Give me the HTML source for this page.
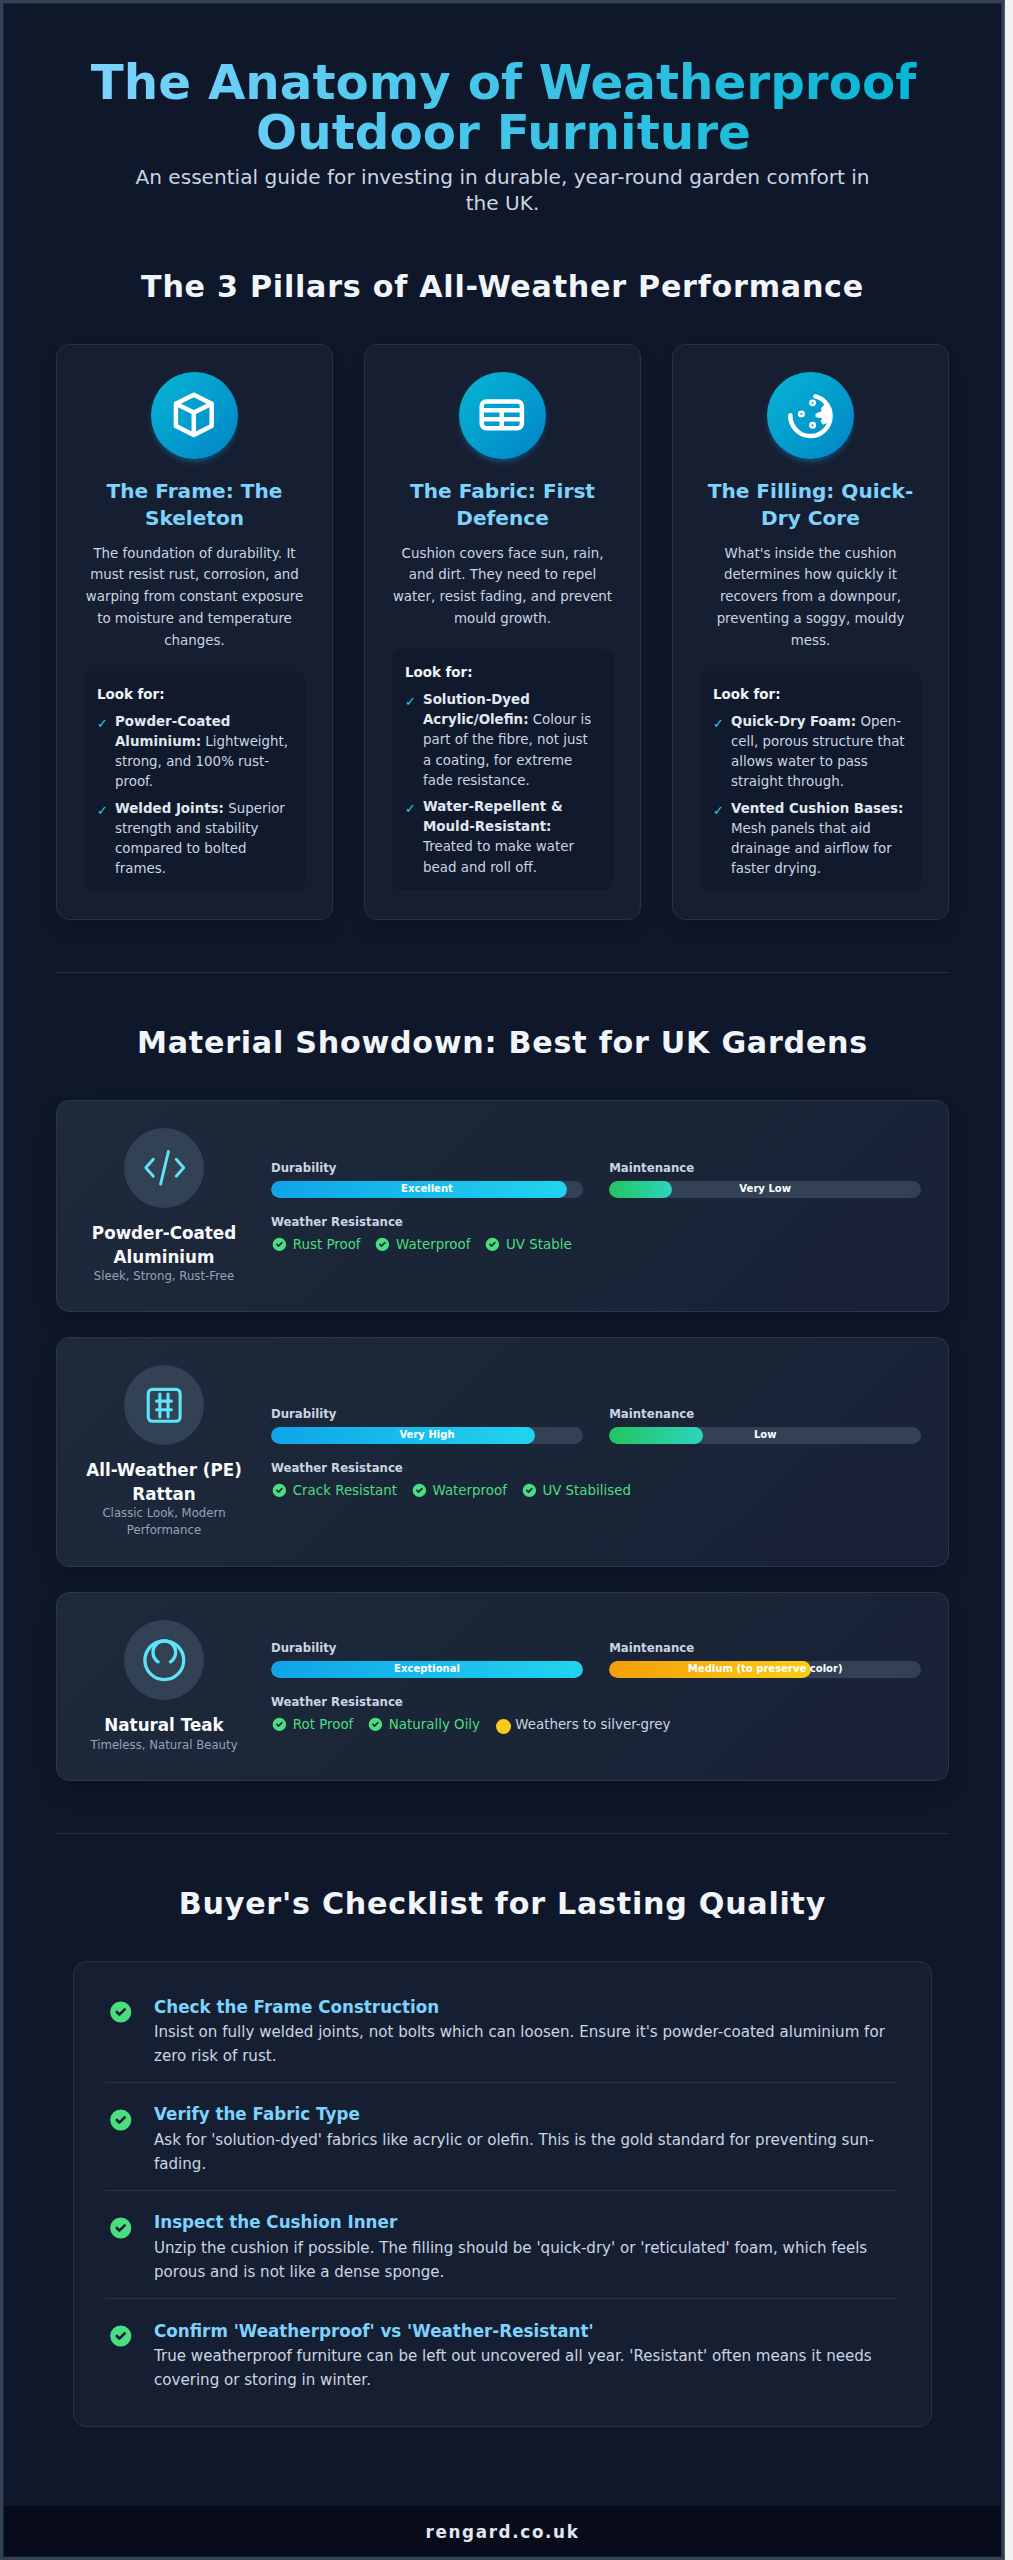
<!DOCTYPE html>
<html lang="en">
<head>
<meta charset="utf-8">
<title>The Anatomy of Weatherproof Outdoor Furniture</title>
<style>
*{box-sizing:border-box;margin:0;padding:0}
html,body{width:1013px;height:2560px;background:#f2f2f2;overflow:hidden}
body{font-family:"DejaVu Sans","Liberation Sans",sans-serif;color:#cbd5e1;-webkit-font-smoothing:antialiased}
#page{position:absolute;left:0;top:0;width:1005px;height:2560px;background:#0f172a;overflow:hidden}
#in{position:absolute;left:3px;top:3px;width:999px;height:2554px}
.bd{position:absolute;background:#334155}
.abs{position:absolute}
h1{position:absolute;left:1px;width:999px;top:53.75px;text-align:center;font-size:48.4px;line-height:50px;font-weight:700;
 background:linear-gradient(90deg,#7dd3fc 9%,#06b6d4 91%);-webkit-background-clip:text;background-clip:text;color:transparent}
.sub{position:absolute;left:0;width:999px;top:160.7px;text-align:center;font-size:20.1px;line-height:26.8px;color:#cbd5e1}
h2{position:absolute;left:0;width:999px;text-align:center;font-size:30.15px;line-height:40px;font-weight:700;color:#f1f5f9;letter-spacing:.75px}
.hr{position:absolute;left:53px;width:893px;height:1px;background:#212c40}
/* pillar cards */
.pc{position:absolute;top:341px;width:277px;height:576px;border:1px solid #263247;border-radius:13px;background:#161f32;text-align:center;box-shadow:0 10px 20px -6px rgba(0,0,0,.28)}
.pc .ic{position:absolute;left:50%;top:26.5px;margin-left:-43.8px;width:87px;height:87px;border-radius:50%;background:linear-gradient(135deg,#06b6d4,#0284c7);box-shadow:0 4px 6px -2px rgba(14,165,233,.45)}
.pc .ic svg{position:absolute;left:16.7px;top:16.7px;width:53.6px;height:53.6px}
.pc h3{position:absolute;left:0;right:0;top:133px;font-size:20.1px;line-height:27px;font-weight:700;color:#7dd3fc}
.pc p.d{position:absolute;left:20px;right:20px;top:197.7px;font-size:13.4px;line-height:21.78px;color:#cbd5e1}
.lf{position:absolute;left:27px;right:27px;border-radius:9px;background:#111a2c;text-align:left;padding:14.1px 13px 0 13px}
.lf .t{font-size:13.4px;line-height:20.1px;font-weight:700;color:#f1f5f9;margin-bottom:6.9px}
.lf .li{position:relative;padding-left:18px;font-size:13.4px;line-height:20.1px;color:#cbd5e1;margin-bottom:6.5px}
.lf .li b{color:#e2e8f0}
.lf .li i{position:absolute;left:.1px;top:1.9px;font-style:normal;color:#22d3ee;font-size:13px}
/* material cards */
.mc{position:absolute;left:53px;width:893px;border:1px solid #2a364b;border-radius:13px;background:linear-gradient(135deg,#1e293b,#182135);box-shadow:0 12px 24px -6px rgba(0,0,0,.32)}
.mc .ci{position:absolute;left:66.7px;width:80.6px;height:80.6px;border-radius:50%;background:#334155}
.mc .nm{position:absolute;left:14px;width:186px;text-align:center;font-size:16.75px;line-height:24px;font-weight:700;color:#f8fafc}
.mc .ds{position:absolute;left:14px;width:186px;text-align:center;font-size:11.73px;line-height:16.75px;color:#94a3b8}
.lb{position:absolute;font-size:11.73px;line-height:14px;font-weight:700;color:#cbd5e1}
.bar{position:absolute;height:16.8px;border-radius:9px;background:#334155;overflow:hidden}
.bar .f{position:absolute;left:0;top:0;bottom:0;border-radius:9px}
.bar .tx{position:absolute;left:0;right:0;top:0;text-align:center;font-size:10.05px;line-height:16.8px;font-weight:700;color:#fff}
.blue{background:linear-gradient(90deg,#0ea5e9,#22d3ee)}
.green{background:linear-gradient(90deg,#22c55e,#2dd4bf)}
.amber{background:linear-gradient(90deg,#f59e0b,#facc15)}
.tags{position:absolute;left:214px;font-size:13.4px;line-height:20px;color:#4ade80;white-space:nowrap}
.tags span{display:inline-block;margin-right:13.75px}
.tags em{display:inline-block;width:15px;height:15px;border-radius:50%;background:#facc15;vertical-align:-4.5px;margin:0 4.7px 0 1.8px}
.tags svg{width:16.75px;height:16.75px;vertical-align:-3.6px;margin-right:5px}
/* checklist */
#cl{position:absolute;left:70px;top:1958px;width:859px;height:466px;border:1px solid #263247;border-radius:13px;background:#161f32}
.ci2{position:absolute;left:30.7px;right:34px;height:108px;border-top:1px solid #263247}
.ci2:first-child{border-top:none}
.ci2 svg{position:absolute;left:2px;transform:translate(.55px,-.2px);width:26.4px;height:26.4px}
.ci2 .h{position:absolute;left:49.3px;font-size:16.75px;line-height:22px;font-weight:700;color:#7dd3fc}
.ci2 .b{position:absolute;left:49.3px;right:0;font-size:15.08px;line-height:23.7px;color:#cbd5e1}
#ft{position:absolute;left:0;width:999px;top:2503.4px;height:51px;background:#080c1a;text-align:center;font-size:16.75px;line-height:53.6px;font-weight:700;color:#e2e8f0;letter-spacing:1.67px}
</style>
</head>
<body>
<div id="page">
<div id="in">
<h1>The Anatomy of Weatherproof<br>Outdoor Furniture</h1>
<p class="sub">An essential guide for investing in durable, year-round garden comfort in<br>the UK.</p>
<h2 style="top:264.2px">The 3 Pillars of All-Weather Performance</h2>

<!-- PILLARS -->
<div class="pc" style="left:53px">
 <div class="ic"><svg viewBox="0 0 24 24" fill="none" stroke="#fff" stroke-width="2" stroke-linecap="round" stroke-linejoin="round"><path d="M20 7l-8-4-8 4m16 0l-8 4m8-4v10l-8 4m0-10L4 7m8 4v10M4 7v10l8 4"/></svg></div>
 <h3>The Frame: The<br>Skeleton</h3>
 <p class="d">The foundation of durability. It<br>must resist rust, corrosion, and<br>warping from constant exposure<br>to moisture and temperature<br>changes.</p>
 <div class="lf" style="top:326px;height:220.8px">
  <div class="t">Look for:</div>
  <div class="li"><i>✓</i><b>Powder-Coated<br>Aluminium:</b> Lightweight,<br>strong, and 100% rust-<br>proof.</div>
  <div class="li"><i>✓</i><b>Welded Joints:</b> Superior<br>strength and stability<br>compared to bolted<br>frames.</div>
 </div>
</div>
<div class="pc" style="left:361px">
 <div class="ic"><svg viewBox="0 0 24 24" fill="none" stroke="#fff" stroke-width="2" stroke-linecap="round" stroke-linejoin="round"><path d="M3 10h18M3 14h18m-9-4v8m-7 0h14a2 2 0 002-2V8a2 2 0 00-2-2H5a2 2 0 00-2 2v8a2 2 0 002 2z"/></svg></div>
 <h3>The Fabric: First<br>Defence</h3>
 <p class="d">Cushion covers face sun, rain,<br>and dirt. They need to repel<br>water, resist fading, and prevent<br>mould growth.</p>
 <div class="lf" style="top:304.2px;height:240.9px">
  <div class="t">Look for:</div>
  <div class="li"><i>✓</i><b>Solution-Dyed<br>Acrylic/Olefin:</b> Colour is<br>part of the fibre, not just<br>a coating, for extreme<br>fade resistance.</div>
  <div class="li"><i>✓</i><b>Water-Repellent &amp;<br>Mould-Resistant:</b><br>Treated to make water<br>bead and roll off.</div>
 </div>
</div>
<div class="pc" style="left:669px">
 <div class="ic"><svg viewBox="0 0 24 24" fill="none" stroke="#fff" stroke-width="2" stroke-linecap="round" stroke-linejoin="round"><g transform="translate(.3 .5)"><path d="M14.2 3.27A9 9 0 1 1 3 11.7"/><g stroke-width="1.1"><circle cx="12.95" cy="6.15" r="1"/><circle cx="7.95" cy="11.1" r="1"/><circle cx="12.95" cy="16.15" r="1"/></g><path fill="#fff" stroke-width=".9" d="M18.4 7.4L17.2 8.7L17.5 9.9L16.6 10.5L14.7 11.3L14.7 12.2L17.9 12.7L17.1 14.4L17.6 15.4L19.1 14.8L20.3 13.2L20.6 10.6L19.8 8.6Z"/></g></svg></div>
 <h3>The Filling: Quick-<br>Dry Core</h3>
 <p class="d">What's inside the cushion<br>determines how quickly it<br>recovers from a downpour,<br>preventing a soggy, mouldy<br>mess.</p>
 <div class="lf" style="top:326px;height:220.8px">
  <div class="t">Look for:</div>
  <div class="li"><i>✓</i><b>Quick-Dry Foam:</b> Open-<br>cell, porous structure that<br>allows water to pass<br>straight through.</div>
  <div class="li"><i>✓</i><b>Vented Cushion Bases:</b><br>Mesh panels that aid<br>drainage and airflow for<br>faster drying.</div>
 </div>
</div>

<div class="hr" style="top:969px"></div>
<h2 style="top:1020.2px">Material Showdown: Best for UK Gardens</h2>
<div class="mc" style="top:1097px;height:212px">
 <div class="ci" style="top:26.6px"><svg width="80" height="80" viewBox="0 0 80 80" fill="none" stroke="#5ee4f7" stroke-width="2.9" stroke-linecap="round" stroke-linejoin="round"><path d="M29.3 31.3L21.8 39.75L29.3 48.2M44.4 23.6L36.6 56.2M52.2 31.3L59.7 39.75L52.2 48.2"/></svg></div>
 <div class="nm" style="top:120.2px">Powder-Coated<br>Aluminium</div>
 <div class="ds" style="top:167.25px">Sleek, Strong, Rust-Free</div>
 <div class="lb" style="left:214px;top:60px">Durability</div>
 <div class="bar" style="left:214px;width:312px;top:79.9px"><div class="f blue" style="width:296.2px"></div><div class="tx">Excellent</div></div>
 <div class="lb" style="left:552.2px;top:60px">Maintenance</div>
 <div class="bar" style="left:552.2px;width:312px;top:79.9px"><div class="f green" style="width:62.6px"></div><div class="tx">Very Low</div></div>
 <div class="lb" style="left:214px;top:114px">Weather Resistance</div>
 <div class="tags" style="top:134px"><span><svg viewBox="0 0 20 20"><path fill="#4ade80" fill-rule="evenodd" d="M10 18a8 8 0 100-16 8 8 0 000 16zm3.707-9.293a1 1 0 00-1.414-1.414L9 10.586 7.707 9.293a1 1 0 00-1.414 1.414l2 2a1 1 0 001.414 0l4-4z" clip-rule="evenodd"/></svg>Rust Proof</span><span><svg viewBox="0 0 20 20"><path fill="#4ade80" fill-rule="evenodd" d="M10 18a8 8 0 100-16 8 8 0 000 16zm3.707-9.293a1 1 0 00-1.414-1.414L9 10.586 7.707 9.293a1 1 0 00-1.414 1.414l2 2a1 1 0 001.414 0l4-4z" clip-rule="evenodd"/></svg>Waterproof</span><span><svg viewBox="0 0 20 20"><path fill="#4ade80" fill-rule="evenodd" d="M10 18a8 8 0 100-16 8 8 0 000 16zm3.707-9.293a1 1 0 00-1.414-1.414L9 10.586 7.707 9.293a1 1 0 00-1.414 1.414l2 2a1 1 0 001.414 0l4-4z" clip-rule="evenodd"/></svg>UV Stable</span></div>
</div>
<div class="mc" style="top:1334px;height:230px">
 <div class="ci" style="top:26.6px"><svg width="80" height="80" viewBox="0 0 80 80" fill="none" stroke="#5ee4f7" stroke-linecap="round" stroke-linejoin="round"><g transform="translate(18 18.5) scale(1.8333)" stroke-width="1.7"><rect x="3.4" y="3.2" width="17.4" height="17.4" rx="2.2"/><path d="M9.75 5.75v12.55M14.2 5.75v12.55M7.95 9.6h8.1M7.95 14.3h8.1"/></g></svg></div>
 <div class="nm" style="top:120.2px">All-Weather (PE)<br>Rattan</div>
 <div class="ds" style="top:167.25px">Classic Look, Modern<br>Performance</div>
 <div class="lb" style="left:214px;top:69px">Durability</div>
 <div class="bar" style="left:214px;width:312px;top:88.9px"><div class="f blue" style="width:264px"></div><div class="tx">Very High</div></div>
 <div class="lb" style="left:552.2px;top:69px">Maintenance</div>
 <div class="bar" style="left:552.2px;width:312px;top:88.9px"><div class="f green" style="width:94.2px"></div><div class="tx">Low</div></div>
 <div class="lb" style="left:214px;top:123px">Weather Resistance</div>
 <div class="tags" style="top:143px"><span><svg viewBox="0 0 20 20"><path fill="#4ade80" fill-rule="evenodd" d="M10 18a8 8 0 100-16 8 8 0 000 16zm3.707-9.293a1 1 0 00-1.414-1.414L9 10.586 7.707 9.293a1 1 0 00-1.414 1.414l2 2a1 1 0 001.414 0l4-4z" clip-rule="evenodd"/></svg>Crack Resistant</span><span><svg viewBox="0 0 20 20"><path fill="#4ade80" fill-rule="evenodd" d="M10 18a8 8 0 100-16 8 8 0 000 16zm3.707-9.293a1 1 0 00-1.414-1.414L9 10.586 7.707 9.293a1 1 0 00-1.414 1.414l2 2a1 1 0 001.414 0l4-4z" clip-rule="evenodd"/></svg>Waterproof</span><span><svg viewBox="0 0 20 20"><path fill="#4ade80" fill-rule="evenodd" d="M10 18a8 8 0 100-16 8 8 0 000 16zm3.707-9.293a1 1 0 00-1.414-1.414L9 10.586 7.707 9.293a1 1 0 00-1.414 1.414l2 2a1 1 0 001.414 0l4-4z" clip-rule="evenodd"/></svg>UV Stabilised</span></div>
</div>
<div class="mc" style="top:1589px;height:189px">
 <div class="ci" style="top:26.6px"><svg width="80" height="80" viewBox="0 0 80 80" fill="none" stroke="#5ee4f7" stroke-width="3.3" stroke-linecap="round"><circle cx="40.3" cy="40.2" r="19.4"/><path d="M34.15 41.8A11.3 11.3 0 1 1 46.45 41.8"/></svg></div>
 <div class="nm" style="top:120.2px">Natural Teak</div>
 <div class="ds" style="top:144.25px">Timeless, Natural Beauty</div>
 <div class="lb" style="left:214px;top:48px">Durability</div>
 <div class="bar" style="left:214px;width:312px;top:67.9px"><div class="f blue" style="width:312px"></div><div class="tx">Exceptional</div></div>
 <div class="lb" style="left:552.2px;top:48px">Maintenance</div>
 <div class="bar" style="left:552.2px;width:312px;top:67.9px"><div class="f amber" style="width:202px"></div><div class="tx">Medium (to preserve color)</div></div>
 <div class="lb" style="left:214px;top:102px">Weather Resistance</div>
 <div class="tags" style="top:122px"><span><svg viewBox="0 0 20 20"><path fill="#4ade80" fill-rule="evenodd" d="M10 18a8 8 0 100-16 8 8 0 000 16zm3.707-9.293a1 1 0 00-1.414-1.414L9 10.586 7.707 9.293a1 1 0 00-1.414 1.414l2 2a1 1 0 001.414 0l4-4z" clip-rule="evenodd"/></svg>Rot Proof</span><span><svg viewBox="0 0 20 20"><path fill="#4ade80" fill-rule="evenodd" d="M10 18a8 8 0 100-16 8 8 0 000 16zm3.707-9.293a1 1 0 00-1.414-1.414L9 10.586 7.707 9.293a1 1 0 00-1.414 1.414l2 2a1 1 0 001.414 0l4-4z" clip-rule="evenodd"/></svg>Naturally Oily</span><span style="color:#cbd5e1"><em></em>Weathers to silver-grey</span></div>
</div>

<div class="hr" style="top:1830px"></div>
<h2 style="top:1881.2px">Buyer's Checklist for Lasting Quality</h2>
<div id="cl">
 <div class="ci2" style="top:13.5px"><svg viewBox="0 0 20 20" style="top:23.5px"><path fill="#4ade80" fill-rule="evenodd" d="M10 18a8 8 0 100-16 8 8 0 000 16zm3.707-9.293a1 1 0 00-1.414-1.414L9 10.586 7.707 9.293a1 1 0 00-1.414 1.414l2 2a1 1 0 001.414 0l4-4z" clip-rule="evenodd"/></svg><div class="h" style="top:20.1px">Check the Frame Construction</div><div class="b" style="top:45.9px">Insist on fully welded joints, not bolts which can loosen. Ensure it's powder-coated aluminium for<br>zero risk of rust.</div></div>
 <div class="ci2" style="top:120.35px"><svg viewBox="0 0 20 20" style="top:23.5px"><path fill="#4ade80" fill-rule="evenodd" d="M10 18a8 8 0 100-16 8 8 0 000 16zm3.707-9.293a1 1 0 00-1.414-1.414L9 10.586 7.707 9.293a1 1 0 00-1.414 1.414l2 2a1 1 0 001.414 0l4-4z" clip-rule="evenodd"/></svg><div class="h" style="top:20.1px">Verify the Fabric Type</div><div class="b" style="top:45.9px">Ask for 'solution-dyed' fabrics like acrylic or olefin. This is the gold standard for preventing sun-<br>fading.</div></div>
 <div class="ci2" style="top:228.40px"><svg viewBox="0 0 20 20" style="top:23.5px"><path fill="#4ade80" fill-rule="evenodd" d="M10 18a8 8 0 100-16 8 8 0 000 16zm3.707-9.293a1 1 0 00-1.414-1.414L9 10.586 7.707 9.293a1 1 0 00-1.414 1.414l2 2a1 1 0 001.414 0l4-4z" clip-rule="evenodd"/></svg><div class="h" style="top:20.1px">Inspect the Cushion Inner</div><div class="b" style="top:45.9px">Unzip the cushion if possible. The filling should be 'quick-dry' or 'reticulated' foam, which feels<br>porous and is not like a dense sponge.</div></div>
 <div class="ci2" style="top:336.45px"><svg viewBox="0 0 20 20" style="top:23.5px"><path fill="#4ade80" fill-rule="evenodd" d="M10 18a8 8 0 100-16 8 8 0 000 16zm3.707-9.293a1 1 0 00-1.414-1.414L9 10.586 7.707 9.293a1 1 0 00-1.414 1.414l2 2a1 1 0 001.414 0l4-4z" clip-rule="evenodd"/></svg><div class="h" style="top:20.1px">Confirm 'Weatherproof' vs 'Weather-Resistant'</div><div class="b" style="top:45.9px">True weatherproof furniture can be left out uncovered all year. 'Resistant' often means it needs<br>covering or storing in winter.</div></div>
</div>

<div id="ft">rengard.co.uk</div>
</div>
<div class="bd" style="left:0;top:0;width:1005px;height:3px"></div>
<div class="bd" style="left:0;top:3px;width:1005px;height:1px;background:#1c2639"></div>
<div class="bd" style="left:0;top:2556px;width:1005px;height:1px;background:#171f2f"></div>
<div class="bd" style="left:0;top:2557px;width:1005px;height:3px"></div>
<div class="bd" style="left:3px;top:3px;width:1px;height:2554px;background:#1c2639"></div>
<div class="bd" style="left:0;top:0;width:3px;height:2560px"></div>
<div class="bd" style="left:1001px;top:3px;width:1px;height:2554px;background:#212c3f"></div>
<div class="bd" style="left:1002px;top:0;width:2px;height:2560px"></div>
<div class="bd" style="left:1004px;top:0;width:1px;height:2560px;background:#4f5b6c"></div>
</div>
</body>
</html>
